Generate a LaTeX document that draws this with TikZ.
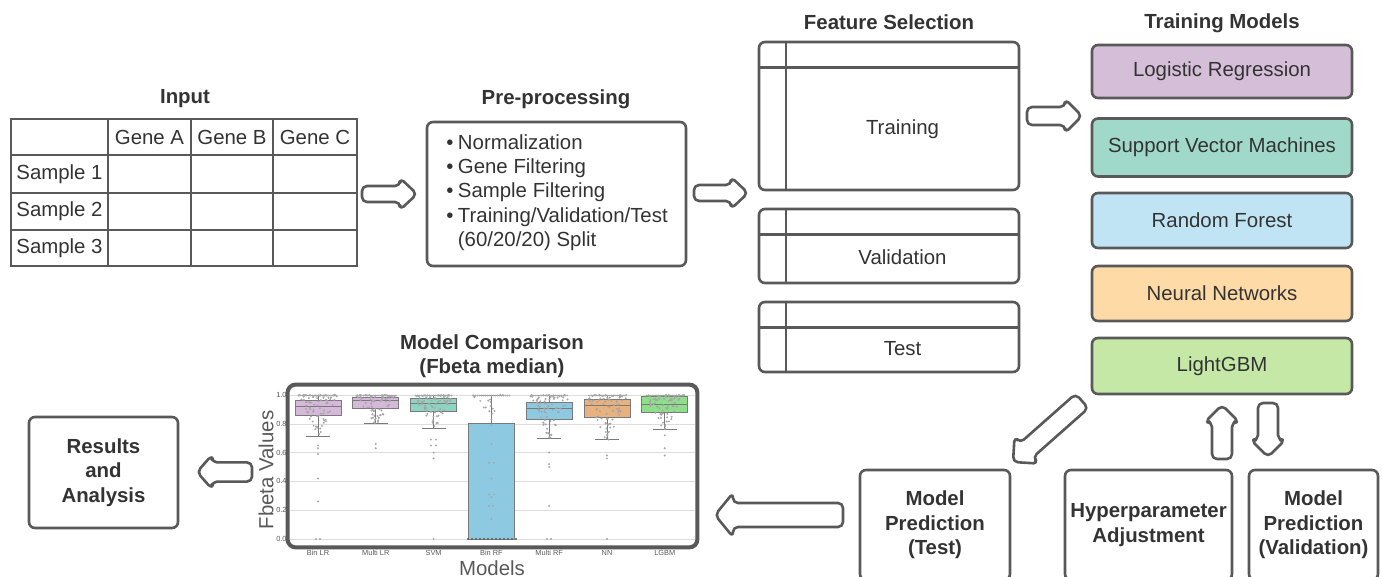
\documentclass[tikz,border=0pt]{standalone}
\usepackage{fontspec}
\setmainfont{Liberation Sans}
\usetikzlibrary{calc}

\definecolor{edge}{HTML}{595959}
\definecolor{ink}{HTML}{333333}
\definecolor{lrfill}{HTML}{D5BFD8}
\definecolor{svmfill}{HTML}{A0D9C9}
\definecolor{rffill}{HTML}{C1E4F5}
\definecolor{nnfill}{HTML}{FDDAA6}
\definecolor{gbmfill}{HTML}{C6E8A7}
\definecolor{cLR}{HTML}{D6B8DB}
\definecolor{cSVM}{HTML}{8ED4C2}
\definecolor{cRF}{HTML}{8DCAE2}
\definecolor{cNN}{HTML}{E8B17D}
\definecolor{cGBM}{HTML}{8EDF89}
\definecolor{gridc}{HTML}{DDDDDD}

\tikzset{
  box/.style={draw=edge, line width=1.3pt, rounded corners=3pt, text=ink,
    align=center, inner sep=0pt, outer sep=0pt},
  boldbox/.style={box, font=\fontsize{10.2}{12.2}\selectfont\bfseries},
  ttl/.style={text=ink, font=\fontsize{10.2}{12}\selectfont\bfseries, inner sep=0pt, align=center},
  lbl/.style={text=ink, inner sep=0pt},
  rule/.style={draw=edge, line width=1.3pt},
  barrow/.style={draw=edge, line width=1.3pt, rounded corners=2.5pt, fill=white, line join=round},
  tick/.style={text=edge, font=\fontsize{3.7}{4}\selectfont, inner sep=0pt},
  gridl/.style={draw=gridc, line width=0.3pt},
  bp/.style={draw=edge!80, line width=0.35pt},
  dot/.style={fill=gray!70},
}

% outlined block arrow from a tail coordinate to a tip coordinate
\newcommand{\barw}[5]{% #1 tail, #2 tip, #3 shaft half-width, #4 head half-width, #5 head length
  \coordinate (bw-b) at ($(#2)!#5!(#1)$);
  \draw[barrow] ($(#1)!#3!90:(#2)$) -- ($(bw-b)!#3!90:(#2)$) -- ($(bw-b)!#4!90:(#2)$)
    -- (#2) -- ($(bw-b)!#4!-90:(#2)$) -- ($(bw-b)!#3!-90:(#2)$) -- ($(#1)!#3!-90:(#2)$) -- cycle;
}

\begin{document}
\begin{tikzpicture}[x=0.5pt, y=-0.5pt, font=\fontsize{10.2}{12.2}\selectfont]
\path[use as bounding box] (0,0) rectangle (1382,577);
\clip (0,0) rectangle (1382,577);

% ---------- titles
\node[ttl] (t-in)  at (185,99) {Input};
\node[ttl] (t-pre) at (556,99) {Pre-processing};
\node[ttl] (t-fs)  at (889,22) {Feature Selection};
\node[ttl] (t-tm)  at (1222,23) {Training Models};
\node[ttl] (t-mc)  at (492,356.5) {Model Comparison\\(Fbeta median)};

% ---------- input table
\node[draw=edge, line width=1.3pt, minimum width=173pt, minimum height=73.5pt, inner sep=0pt] (input) at (184,192.5) {};
\foreach \x in {108,191,273} \draw[rule] (\x,119) -- (\x,266);
\foreach \y in {155,193,230} \draw[rule] (11,\y) -- (357,\y);
\node[lbl] (ga) at (149.5,137) {Gene A};
\node[lbl] (gb) at (232,137) {Gene B};
\node[lbl] (gc) at (315,137) {Gene C};
\node[lbl] (s1) at (59.5,174) {Sample 1};
\node[lbl] (s2) at (59.5,211.5) {Sample 2};
\node[lbl] (s3) at (59.5,248) {Sample 3};

% ---------- pre-processing
\node[box, minimum width=129.5pt, minimum height=72pt] (pre) at (556.5,194) {};
\node[lbl, anchor=west] (pre-list) at (446,193) {%
  \begin{tabular}{@{}l@{\hspace{2.2pt}}l@{}}
  \textbullet & Normalization\\
  \textbullet & Gene Filtering\\
  \textbullet & Sample Filtering\\
  \textbullet & Training/Validation/Test\\
  & (60/20/20) Split
  \end{tabular}};

% ---------- feature selection splits
\node[box, minimum width=130pt, minimum height=74pt] (fs-tr) at (889,116) {};
\node[box, minimum width=130pt, minimum height=37pt] (fs-va) at (889,246) {};
\node[box, minimum width=130pt, minimum height=35pt] (fs-te) at (889,337) {};
\foreach \n in {fs-tr,fs-va,fs-te}{
  \draw[rule] ([xshift=13.5pt]\n.north west) -- ([xshift=13.5pt]\n.south west);
  \draw[rule] ([yshift=-12.8pt]\n.north west) -- ([yshift=-12.8pt]\n.north east);
}
\node[lbl] (l-tr) at (902.5,129) {Training};
\node[lbl] (l-va) at (902.5,257) {Validation};
\node[lbl] (l-te) at (902.5,349) {Test};

% ---------- training models
\node[box, fill=lrfill,  minimum width=130pt, minimum height=26.5pt] (m-lr)  at (1222,71.5) {Logistic Regression};
\node[box, fill=svmfill, minimum width=130pt, minimum height=29pt]   (m-svm) at (1222,147.5) {Support Vector Machines};
\node[box, fill=rffill,  minimum width=130pt, minimum height=27.5pt] (m-rf)  at (1222,220.5) {Random Forest};
\node[box, fill=nnfill,  minimum width=130pt, minimum height=27.5pt] (m-nn)  at (1222,293.5) {Neural Networks};
\node[box, fill=gbmfill, minimum width=130pt, minimum height=28pt]   (m-gbm) at (1222,366) {LightGBM};

% ---------- lower row boxes
\node[boldbox, minimum width=75pt, minimum height=55pt] (mp-te) at (935,525) {Model\\Prediction\\(Test)};
\node[boldbox, minimum width=83.5pt, minimum height=55pt] (hyp) at (1148.5,525) {Hyperparameter\\Adjustment};
\node[boldbox, minimum width=64.5pt, minimum height=55pt] (mp-va) at (1313.5,525) {Model\\Prediction\\(Validation)};
\node[boldbox, minimum width=74.5pt, minimum height=55.5pt] (res) at (103.5,472.5) {Results\\and\\Analysis};

% ---------- block arrows
\coordinate (a1s) at (362,194);  \coordinate (a1e) at (417,194);
\coordinate (a2s) at (694,193);  \coordinate (a2e) at (748,193);
\coordinate (a3s) at (1027,116); \coordinate (a3e) at (1082,116);
\coordinate (a4s) at (1082,401); \coordinate (a4e) at (1013,462);
\coordinate (a5s) at (1222,459); \coordinate (a5e) at (1222,405);
\coordinate (a6s) at (1268,403); \coordinate (a6e) at (1268,457);
\coordinate (a7s) at (843,515);  \coordinate (a7e) at (715,515);
\coordinate (a8s) at (252,472);  \coordinate (a8e) at (197,472);
\barw{a1s}{a1e}{4pt}{8pt}{8.5pt}
\barw{a2s}{a2e}{4pt}{8pt}{8.5pt}
\barw{a3s}{a3e}{4.5pt}{8.5pt}{8.5pt}
\barw{a4s}{a4e}{4.8pt}{9pt}{9pt}
\barw{a5s}{a5e}{5pt}{8.5pt}{8.5pt}
\barw{a6s}{a6e}{5pt}{8.5pt}{8.5pt}
\barw{a7s}{a7e}{6pt}{11pt}{9pt}
\barw{a8s}{a8e}{4.8pt}{8.5pt}{7.5pt}

% ---------- model comparison chart
\node[fill=white, minimum width=204.5pt, minimum height=81pt, inner sep=0pt] (chart) at (492.5,466) {};
\foreach \v in {0.0,0.2,0.4,0.6,0.8,1.0}{
  \draw[gridl] (290,{539-144*\v}) -- (695,{539-144*\v});
  \node[tick, anchor=east] at (287,{539-144*\v}) {\v};
}
% boxes and whiskers
\foreach \cx/\qa/\md/\qb/\wl/\col in {
  318/0.86/0.92/0.965/0.715/cLR,
  375.8/0.91/0.96/0.985/0.80/cLR,
  433.6/0.885/0.945/0.98/0.77/cSVM,
  491.4/0.0/0.0/0.80/0.0/cRF,
  549.2/0.83/0.91/0.95/0.70/cRF,
  607/0.845/0.93/0.97/0.69/cNN,
  664.8/0.88/0.935/0.99/0.76/cGBM}{
  \draw[bp] (\cx,{539-144*\wl}) -- (\cx,{539-144*\qa});
  \draw[bp] (\cx,{539-144*\qb}) -- (\cx,395);
  \draw[bp] ({\cx-12},{539-144*\wl}) -- ({\cx+12},{539-144*\wl});
  \draw[bp] ({\cx-12},395) -- ({\cx+12},395);
  \draw[bp, fill=\col] ({\cx-23},{539-144*\qa}) rectangle ({\cx+23},{539-144*\qb});
  \draw[bp] ({\cx-23},{539-144*\md}) -- ({\cx+23},{539-144*\md});
}
% swarm of fold scores
\pgfmathsetseed{7}
\foreach \cx/\fl/\nd in {318/0.72/80, 375.8/0.80/80, 433.6/0.77/80, 491.4/0.86/16, 549.2/0.70/80, 607/0.69/80, 664.8/0.76/80}{
  \foreach \k in {1,...,\nd}{
    \pgfmathsetmacro\u{rnd}
    \pgfmathsetmacro\vv{1-(1-\fl)*\u*\u}
    \pgfmathsetmacro\dx{(rnd-0.5)*(3+38*(\vv-\fl)/(1-\fl))}
    \fill[dot] ({\cx+\dx},{539-144*\vv}) circle (0.55pt);
  }
  \foreach \k in {-9,...,9} \fill[dot] ({\cx+2*\k},395.5) circle (0.5pt);
}
\foreach \cx/\v in {318/0.65, 318/0.63, 318/0.59, 318/0.42, 318/0.26, 316/0, 320/0,
  375.8/0.66, 375.8/0.63,
  431/0.69, 436/0.69, 431/0.65, 436/0.65, 433.6/0.60, 433.6/0.56, 433.6/0,
  491.4/0.79, 491.4/0.66, 489/0.53, 494/0.53, 491.4/0.42, 489/0.31, 494/0.31, 491.4/0.29,
  489/0.23, 493/0.23, 491.4/0.14, 491.4/0.83,
  549.2/0.60, 549.2/0.52, 549.2/0.50, 549.2/0.23, 547/0, 551/0,
  607/0.58, 607/0.56, 607/0,
  664.8/0.72, 664.8/0.63, 664.8/0.58}{
  \fill[dot] (\cx,{539-144*\v}) circle (0.55pt);
}
\foreach \x in {468,472,...,516} \fill[edge] (\x,539) circle (0.6pt);
\draw[draw=edge, line width=2pt, rounded corners=4pt] (chart.north west) rectangle (chart.south east);
\foreach \x/\m in {318/Bin LR, 375.8/Multi LR, 433.6/SVM, 491.4/Bin RF, 549.2/Multi RF, 607/NN, 664.8/LGBM}
  \node[tick] at (\x,553) {\m};
\node[lbl, text=edge] (ax-x) at (492,568) {Models};
\node[lbl, text=edge, rotate=90] (ax-y) at (266,470) {Fbeta Values};

\end{tikzpicture}
\end{document}
